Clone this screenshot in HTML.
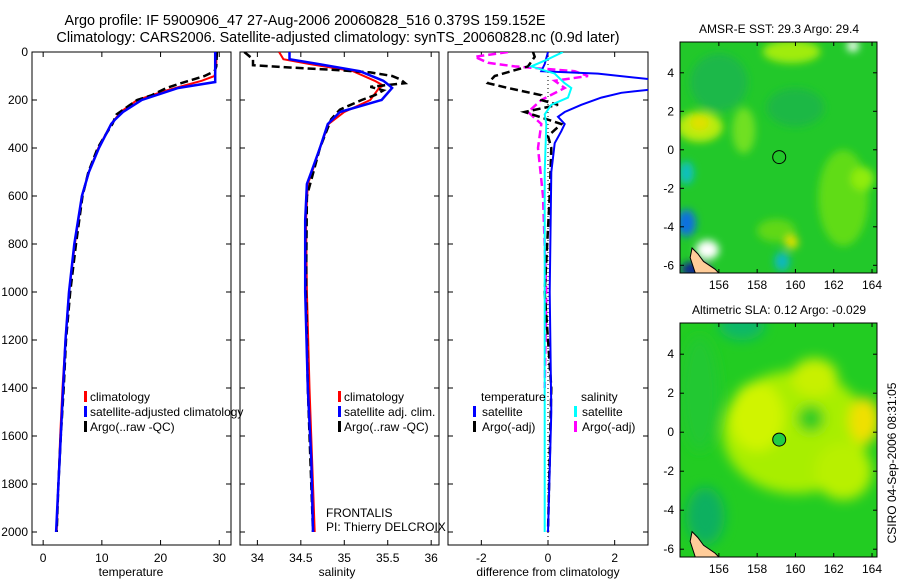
<!DOCTYPE html>
<html><head><meta charset="utf-8"><style>
body{margin:0;background:#fff;}
svg{display:block;font-family:"Liberation Sans",sans-serif;}
</style></head><body>
<svg id="c" width="900" height="580" viewBox="0 0 900 580">
<defs>
<clipPath id="cp1"><rect x="32" y="52" width="199" height="493"/></clipPath>
<clipPath id="cp2"><rect x="240" y="52" width="199" height="493"/></clipPath>
<clipPath id="cp3"><rect x="448" y="52" width="200" height="493"/></clipPath>
<clipPath id="cm1"><rect x="680" y="42" width="197" height="231"/></clipPath>
<clipPath id="cm2"><rect x="680" y="323" width="197" height="234"/></clipPath>
<filter id="bl" x="-50%" y="-50%" width="200%" height="200%"><feGaussianBlur stdDeviation="6"/></filter>
<filter id="bl2" x="-50%" y="-50%" width="200%" height="200%"><feGaussianBlur stdDeviation="4"/></filter>
</defs>
<text x="305" y="25" font-size="14.4" text-anchor="middle">Argo profile: IF 5900906_47 27-Aug-2006 20060828_516 0.379S 159.152E</text>
<text x="338" y="42" font-size="14.4" text-anchor="middle">Climatology: CARS2006. Satellite-adjusted climatology: synTS_20060828.nc (0.9d later)</text>
<g id="g"></g>
</svg>
<script>
// ---------- data ----------
const tDepth=[0,50,100,120,140,160,200,250,300,400,500,600,800,1000,1200,1400,1600,1800,2000];
const tClim=[29.5,29.5,29.2,27,24,21,16,13.2,11.6,9.4,7.8,6.6,5.4,4.4,3.8,3.3,2.9,2.6,2.3];
const sDepth=[0,120,125,150,200,250,280,300,400,500,600,800,1000,1200,1400,1600,1800,2000];
const tSat=[29.3,29.3,29.3,23,16.8,13.6,12.3,11.6,9.5,7.8,6.6,5.3,4.4,3.8,3.4,3.0,2.6,2.2];
const aDepth=[0,60,80,100,130,150,180,200,260,300,350,400,500,600,800,1000,1200,1400,1600,1800,2000];
const tArgo=[29.6,29.5,29.2,27.5,23.5,21,18.5,16,12.5,11.8,10.5,9.3,7.7,6.7,5.6,4.6,3.9,3.5,3.0,2.6,2.3];

const salDepth=[0,30,50,80,120,140,150,200,250,300,400,500,550,700,1000,1400,1700,2000];
const salClim=[34.25,34.3,34.6,35.1,35.35,35.45,35.4,35.3,35.0,34.82,34.72,34.63,34.58,34.56,34.57,34.6,34.63,34.66];
const salSat=[34.37,34.37,34.7,35.18,35.45,35.52,35.55,35.43,34.95,34.81,34.72,34.62,34.57,34.55,34.55,34.58,34.62,34.64];
const saDepth=[0,30,55,65,75,85,100,115,130,145,160,180,200,240,280,400,600,1000,1400,2000];
const salArgo=[33.85,33.95,33.95,34.4,34.9,35.3,35.55,35.65,35.7,35.3,35.45,35.35,35.2,34.95,34.85,34.72,34.57,34.56,34.58,34.64];

const dDepth=[0,50,80,90,120,150,170,190,220,250,270,300,330,380,500,1000,1500,2000];
const dTempSat=[0,-0.1,-0.2,1.5,3.5,3.5,2.2,1.6,1.0,0.5,0.3,0.5,0.4,0.2,0.1,0.05,0.1,0];
const daDepth=[0,20,60,100,130,150,180,200,220,250,300,350,400,600,1000,1400,2000];
const dTempArgo=[-0.45,-0.4,-0.6,-1.6,-1.8,-1.2,-0.2,-0.2,0.3,-0.7,0.4,0,0.1,0.05,-0.1,0.1,0];
const dsDepth=[0,30,60,90,130,150,190,220,260,300,500,1000,2000];
const dSalSat=[0.45,0,-0.5,0.2,0.5,0.7,0.6,0.1,-0.1,-0.05,-0.1,-0.1,-0.1];
const dmDepth=[0,20,45,60,80,100,120,150,200,250,300,400,600,1000,1400];
const dSalArgo=[-1.2,-2.2,-1.8,-1.0,0.8,1.2,0.2,0.5,-0.2,-0.6,-0.2,-0.3,-0.15,-0.05,-0.1];

const depthTicks=[0,200,400,600,800,1000,1200,1400,1600,1800,2000];
const tempTicks=[0,10,20,30];
const salTicks=["34","34.5","35","35.5","36"];
const diffTicks=[-2,0,2];
const lonTicks=[156,158,160,162,164];
const latTicks=[4,2,0,-2,-4,-6];
const argoLon=159.152, argoLat=-0.379;

// ---------- helpers ----------
const NS="http://www.w3.org/2000/svg";
const G=document.getElementById('g');
function mk(tag,at,parent){const e=document.createElementNS(NS,tag);for(const k in at)e.setAttribute(k,at[k]);(parent||G).appendChild(e);return e;}
const yD=d=>52+d*0.24;
function panel(x0,x1,xmin,xmax){return v=>x0+(v-xmin)/(xmax-xmin)*(x1-x0);}
const xT=panel(32,231,-1.9,32);
const xS=panel(240,439,33.8,36.09);
const xF=panel(448,648,-3,3);
function line(xs,ds,vals,color,w,dash,clip,name){
  const pts=ds.map((d,i)=>xs(vals[i]).toFixed(1)+','+yD(d).toFixed(1)).join(' ');
  const p=mk('polyline',{points:pts,fill:'none',stroke:color,'stroke-width':w,'clip-path':'url(#'+clip+')'});
  if(dash)p.setAttribute('stroke-dasharray',dash);
  
  
}
function frame(x0,x1,name){
  const r=mk('rect',{x:x0,y:52,width:x1-x0,height:493,fill:'#fff',stroke:'#000','stroke-width':1});
  
  
  depthTicks.forEach(d=>{mk('line',{x1:x0,x2:x0+5,y1:yD(d),y2:yD(d),stroke:'#000'});mk('line',{x1:x1,x2:x1-5,y1:yD(d),y2:yD(d),stroke:'#000'});});
}
function xticks(xs,vals){
  vals.forEach(v=>{const x=xs(+v);mk('line',{x1:x,x2:x,y1:545,y2:540,stroke:'#000'});mk('line',{x1:x,x2:x,y1:52,y2:57,stroke:'#000'});
    const t=mk('text',{x:x,y:562,'font-size':12,'text-anchor':'middle'});t.textContent=v;
    
    });
}
function label(x,y,txt,name,anchor){const t=mk('text',{x:x,y:y,'font-size':12,'text-anchor':anchor||'start'});t.textContent=txt;
  
  return t;}
function legbar(x,y,c){mk('rect',{x:x,y:y-10,width:3,height:11,fill:c});}

// ---------- panel frames ----------
frame(32,231,'temperature-panel');
frame(240,439,'salinity-panel');
depthTicks.forEach(d=>{const t=mk('text',{x:28,y:yD(d)+4,'font-size':12,'text-anchor':'end'});t.textContent=d;
  
  });
xticks(xT,tempTicks);xticks(xS,salTicks);
label(131,576,'temperature','x-axis-title-temperature','middle');
label(337,576,'salinity','x-axis-title-salinity','middle');

line(xT,tDepth,tClim,'#f00',2,null,'cp1','temp-climatology-line');
line(xT,aDepth,tArgo,'#000',2.5,'8,4','cp1','temp-argo-line');
line(xT,sDepth,tSat,'#00f',2.5,null,'cp1','temp-satellite-line');
legbar(84,401,'#f00');label(90,401,'climatology','legend-climatology');
legbar(84,416,'#00f');label(90,416,'satellite-adjusted climatology','legend-satellite');
legbar(84,431,'#000');label(90,431,'Argo(..raw -QC)','legend-argo');

line(xS,salDepth,salClim,'#f00',2,null,'cp2','sal-climatology-line');
line(xS,saDepth,salArgo,'#000',2.5,'8,4','cp2','sal-argo-line');
line(xS,salDepth,salSat,'#00f',2.5,null,'cp2','sal-satellite-line');
legbar(338,401,'#f00');label(344,401,'climatology','legend-sal-climatology');
legbar(338,416,'#00f');label(344,416,'satellite adj. clim.','legend-sal-satellite');
legbar(338,431,'#000');label(344,431,'Argo(..raw -QC)','legend-sal-argo');
label(326,517,'FRONTALIS','float-project-label');
label(326,531,'PI: Thierry DELCROIX','pi-label');

frame(448,648,'difference-panel');
xticks(xF,diffTicks);
label(548,576,'difference from climatology','x-axis-title-difference','middle');
mk('line',{x1:xF(0),x2:xF(0),y1:52,y2:545,stroke:'#000','stroke-dasharray':'1,3'});
line(xF,dmDepth,dSalArgo,'#f0f',2.5,'8,4','cp3','diff-sal-argo-line');
line(xF,daDepth,dTempArgo,'#000',2.5,'8,4','cp3','diff-temp-argo-line');
line(xF,dDepth,dTempSat,'#00f',2,null,'cp3','diff-temp-satellite-line');
line(xF,dsDepth,dSalSat,'#0ff',2,null,'cp3','diff-sal-satellite-line');
label(481,401,'temperature','legend-temperature-header');
legbar(473,416,'#00f');label(482,416,'satellite','legend-temp-satellite');
legbar(473,431,'#000');label(482,431,'Argo(-adj)','legend-temp-argo');
label(581,401,'salinity','legend-salinity-header');
legbar(574,416,'#0ff');label(582,416,'satellite','legend-sal-satellite-diff');
legbar(574,431,'#f0f');label(582,431,'Argo(-adj)','legend-sal-argo-diff');

// ---------- maps ----------
function map(top,bot,clip,name,title,blobs,base,filled){
  const lx=v=>680+(v-153.97)/(164.26-153.97)*197;
  const ly=v=>top+(5.6-v)/(5.6+6.4)*(bot-top);
  const g=mk('g',{'clip-path':'url(#'+clip+')'});
  
  
  mk('rect',{x:680,y:top,width:197,height:bot-top,fill:base},g);
  const bg=mk('g',{filter:'url(#'+(filled?'bl':'bl2')+')'},g);
  blobs.forEach(b=>mk('ellipse',{cx:lx(b[0]),cy:ly(b[1]),rx:b[2]*19.2,ry:b[3]*19.2,fill:b[4]},bg));
  mk('polygon',{points:[[154.6,-5.1],[154.9,-5.4],[155.2,-5.8],[155.8,-6.2],[156.1,-6.5],[154.8,-6.5],[154.5,-5.6]].map(p=>lx(p[0])+','+ly(p[1])).join(' '),fill:'#fc9',stroke:'#000','stroke-width':1},g);
  mk('rect',{x:680,y:top,width:197,height:bot-top,fill:'none',stroke:'#000'});
  lonTicks.forEach(v=>{const x=lx(v);mk('line',{x1:x,x2:x,y1:bot,y2:bot-4,stroke:'#000'});mk('line',{x1:x,x2:x,y1:top,y2:top+4,stroke:'#000'});
    const t=mk('text',{x:x,y:bot+16,'font-size':12,'text-anchor':'middle'});t.textContent=v;
    
    });
  latTicks.forEach(v=>{const y=ly(v);mk('line',{x1:680,x2:684,y1:y,y2:y,stroke:'#000'});mk('line',{x1:877,x2:873,y1:y,y2:y,stroke:'#000'});
    const t=mk('text',{x:674,y:y+4,'font-size':12,'text-anchor':'end'});t.textContent=v;
    
    });
  const c=mk('circle',{cx:lx(argoLon),cy:ly(argoLat),r:6.5,fill:filled?'#2c4':'none',stroke:'#000'});
  
  
  const t=mk('text',{x:779,y:top-9,'font-size':12,'text-anchor':'middle'});t.textContent=title;
  
  
}
map(42,273,'cm1','sst-map','AMSR-E SST: 29.3 Argo: 29.4',[
  [155,1.2,1.2,0.8,'#b8ec10'],[155,1.4,0.5,0.4,'#e0e000'],[159.8,5.1,1.5,0.6,'#a0ec10'],
  [162.5,-2.5,1.3,2.5,'#60dc18'],[163.5,-1.5,0.6,0.6,'#90ec08'],[157.3,1.0,0.6,1.2,'#70e020'],
  [159,-4.2,1,0.6,'#60d818'],[159.8,-4.8,0.35,0.35,'#e0e000'],[156,3.5,1.5,1.5,'#1cb848'],
  [160,2.2,1.5,1,'#1cb844'],[154.3,-1.2,0.4,0.6,'#10c0c0'],[154.3,-3.8,0.5,0.7,'#1070e0'],
  [159.3,-5.8,0.4,0.5,'#10b8c0'],[154.8,-6.2,0.8,0.4,'#0a2090'],[155.4,-5.2,0.6,0.5,'#ffffff'],
  [163,5.4,0.3,0.3,'#ffffff']],'#22c82a',false);
map(323,557,'cm2','sla-map','Altimetric SLA: 0.12 Argo: -0.029',[
  [160,0,3.8,3.2,'#a8ee00'],[158,0.8,1.4,1.8,'#d0f400'],[161,2.8,1.2,1.0,'#c8f000'],
  [163.6,0.6,0.8,1.2,'#f0e000'],[160.8,0.7,0.7,0.7,'#30cc20'],[162.5,-2,1.5,1.5,'#b8f000'],
  [155.3,-4.3,1,1.5,'#10b060'],[157.2,5.5,1.2,0.8,'#10b868'],[155,2,1,3,'#20c830']],'#22cc22',true);
const cs=mk('text',{x:896,y:463,'font-size':12,'text-anchor':'middle',transform:'rotate(-90 896 463)'});cs.textContent='CSIRO 04-Sep-2006 08:31:05';


</script>
</body></html>
